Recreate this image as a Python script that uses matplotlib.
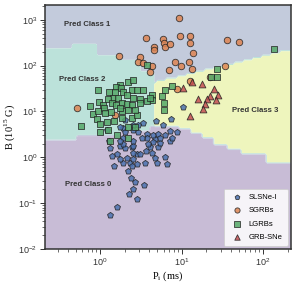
import matplotlib
matplotlib.use("Agg")
import matplotlib.pyplot as plt
import numpy as np

plt.rcParams["font.family"] = ["Liberation Sans", "DejaVu Sans"]

# --- data: initial period P (ms), field B (1e15 G) ---
slsn_P = [1.33, 1.62, 2.84, 2.27, 2.54, 3.47, 2.69, 2.40, 1.49, 1.91, 2.21, 1.40,
          1.62, 1.76, 2.14, 2.33, 2.47, 2.84, 3.57, 2.54, 2.84, 3.10, 2.54, 2.47,
          2.03, 1.76, 1.33, 1.29, 1.91, 2.54, 4.35, 4.73, 5.00, 6.28, 6.64, 4.11,
          5.15, 7.23, 4.73, 5.45, 3.77, 4.47, 5.15, 6.28, 2.93, 1.91, 10.4, 7.43,
          4.86, 5.93, 7.23, 8.81, 7.64, 3.77, 5.45, 3.67, 4.47, 3.37, 1.91, 2.54,
          2.03, 2.54, 3.88, 1.22, 1.76, 2.03, 2.93, 1.76, 2.54, 3.28]
slsn_B = [0.056, 0.083, 0.125, 0.16, 0.20, 0.25, 0.29, 0.36, 0.66, 0.77, 0.51, 1.09,
          1.21, 0.94, 0.99, 0.77, 0.66, 0.73, 0.77, 0.94, 1.21, 1.21, 1.27, 1.64,
          1.56, 1.8, 1.56, 2.3, 2.0, 1.8, 1.27, 0.99, 0.77, 1.04, 0.73, 1.64,
          1.64, 2.3, 2.5, 2.1, 3.3, 3.0, 3.3, 3.0, 3.5, 2.7, 12.4, 6.7,
          6.1, 5.0, 3.7, 3.5, 2.6, 2.6, 2.6, 1.34, 2.2, 5.5, 4.3, 5.0,
          3.5, 3.9, 2.0, 3.9, 4.5, 6.4, 5.0, 2.3, 2.3, 2.7]

sgrb_P = [9.3, 3.7, 5.9, 6.1, 9.6, 12.7, 12.7, 4.6, 4.6, 6.3, 7.2, 1.71, 3.1,
          2.9, 3.4, 4.35, 8.3, 9.9, 12.4, 13.8, 13.5, 7.0, 4.1, 36, 51, 34,
          22, 12.7, 8.8, 0.52, 1.53]
sgrb_B = [1110, 403, 383, 313, 446, 446, 313, 256, 220, 256, 298, 163, 154,
          120, 114, 98, 120, 98, 120, 189, 84, 80, 72, 364, 330, 98,
          56, 46, 31, 11.7, 8.3]

lgrb_P = [3.77, 136, 27.3, 27.3, 23.0, 7.6, 6.3, 5.8, 6.1, 6.1, 4.35, 4.35,
          2.21, 2.54, 1.76, 1.57, 1.81, 0.94, 1.29, 1.91, 2.47, 2.84, 3.37,
          1.44, 1.66, 1.25, 2.14, 2.54, 3.10, 3.77, 4.11, 0.75, 0.97, 1.09,
          1.40, 1.57, 1.86, 2.14, 2.47, 3.10, 0.82, 1.12, 0.94, 1.15, 1.36,
          1.86, 2.21, 0.92, 1.22, 1.00, 1.49, 1.86, 2.47, 2.84, 0.58, 1.00,
          1.25, 2.21, 2.69, 1.62, 1.33, 2.21, 1.76, 2.69, 1.53]
lgrb_B = [103, 231, 84, 56, 56, 36, 29, 22, 15.1, 10.6, 23, 17.6,
          44, 48, 38, 34, 32, 29, 26, 26, 29, 29, 29,
          20, 20, 19, 23, 20, 19, 16.7, 20, 13.0, 15.9, 13.7,
          15.1, 13.7, 15.1, 14.4, 13.7, 15.1, 8.7, 11.7, 10.1, 9.1, 9.6,
          10.1, 10.6, 6.7, 5.8, 5.2, 6.1, 7.1, 7.1, 8.3, 4.7, 3.5,
          3.9, 4.5, 4.5, 3.0, 2.3, 2.7, 11.7, 10.6, 26]

grbsn_P = [13.5, 17.9, 10.4, 25.1, 28.1, 22.4, 26.5, 15.9, 20.6, 19.4, 18.4, 12.7]
grbsn_B = [44, 39, 32, 31, 23, 22, 17.6, 19, 18.5, 14.4, 11.2, 7.8]

class0_edges_P = [0.52, 1.76, 4.1, 9.6, 12.7, 18.4, 24.4, 36.2, 55, 106]
class0_top_B = [2.3, 2.9, 3.7, 4.7, 4.3, 3.3, 2.6, 1.8, 1.56, 1.15, 0.73]
class2_edges_P = [0.45, 0.92, 1.76, 3.1]
class2_top_B = [243, 313, 171, 133, 72]
class3_line_P = [4.1, 220]
class3_line_B = [41, 225]
class23_split_P = 4.7
region_colors = ["#c8bcd6", "#c3cbdc", "#bce2da", "#eef5bd"]

lp = np.linspace(np.log10(0.2), np.log10(230), 110)
lb = np.linspace(-2.05, 3.4, 110)
LP, LB = np.meshgrid(lp, lb)
PP, BB = 10 ** LP, 10 ** LB

b0 = np.array(class0_top_B)[np.searchsorted(class0_edges_P, PP, side="right")]
b2 = np.array(class2_top_B)[np.searchsorted(class2_edges_P, PP, side="right")]
slope = np.diff(np.log10(class3_line_B)) / np.diff(np.log10(class3_line_P))
b3 = 10 ** (np.log10(class3_line_B[0]) + slope * (LP - np.log10(class3_line_P[0])))

Z = np.where(PP < class23_split_P, np.where(BB < b2, 2, 1), np.where(BB < b3, 3, 1))
Z = np.where(BB < b0, 0, Z)

fig = plt.figure(figsize=(2.97, 2.87), dpi=100)
ax = fig.add_axes([0.1515, 0.1324, 0.8283, 0.8502])
ax.contourf(PP, BB, Z, levels=[-0.5, 0.5, 1.5, 2.5, 3.5], colors=region_colors,
            antialiased=True)

kw = dict(edgecolors="#222222", linewidths=0.6, alpha=0.85)
ax.scatter(slsn_P, slsn_B, s=20, marker="p", c="#4c72b0", label="SLSNe-I", **kw)
ax.scatter(sgrb_P, sgrb_B, s=22, marker="o", c="#dd8452", label="SGRBs", **kw)
ax.scatter(lgrb_P, lgrb_B, s=24, marker="s", c="#55a868", label="LGRBs", **kw)
ax.scatter(grbsn_P, grbsn_B, s=24, marker="^", c="#c44e52", label="GRB-SNe", **kw)

ax.set_xscale("log")
ax.set_yscale("log")
ax.set_xlim(0.21, 220)
ax.set_ylim(1e-2, 2100)

tf = dict(fontsize=5.6, fontweight="bold", color="#333333", ha="center", va="center")
ax.text(0.69, 780, "Pred Class 1", **tf)
ax.text(0.60, 51, "Pred Class 2", **tf)
ax.text(80, 10.6, "Pred Class 3", **tf)
ax.text(0.71, 0.25, "Pred Class 0", **tf)

ax.set_xlabel(r"P$_{\mathdefault{i}}$ (ms)", fontfamily="Liberation Serif",
              fontsize=7.5, labelpad=1)
ax.set_ylabel(r"B (10$^{\mathdefault{15}}$ G)", fontfamily="Liberation Serif",
              fontsize=7.5, labelpad=1)

ax.tick_params(which="major", length=3.5, width=0.7, labelsize=6.5, pad=2,
               colors="#333333")
ax.tick_params(which="minor", length=2, width=0.5, colors="#333333")
for sp in ax.spines.values():
    sp.set_color("#333333")
    sp.set_linewidth(1.1)

leg = ax.legend(loc="lower right", fontsize=5.5, labelspacing=0.75,
                handletextpad=0.6, borderpad=0.7, borderaxespad=0.4,
                markerscale=0.8, framealpha=0.85, edgecolor="#cccccc",
                fancybox=True)
leg.get_frame().set_linewidth(0.6)

fig.savefig("out.png", dpi=100)
